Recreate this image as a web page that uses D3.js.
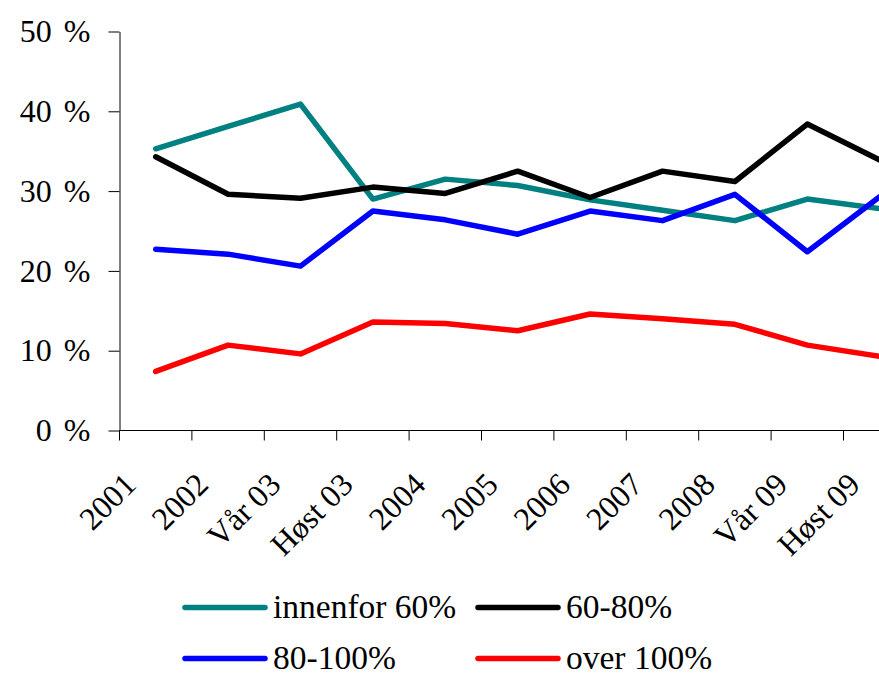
<!DOCTYPE html>
<html>
<head>
<meta charset="utf-8">
<script src="https://cdn.jsdelivr.net/npm/d3@7"></script>
<style>
  html, body { margin: 0; padding: 0; background: #fff; overflow: hidden; }
  svg { display: block; font-family: "Liberation Serif", "Times New Roman", serif; }
</style>
</head>
<body>
<svg id="chart" width="879" height="680"></svg>
<script>
// Periods on the x axis
const categories = ["2001", "2002", "Vår 03", "Høst 03", "2004", "2005", "2006", "2007", "2008", "Vår 09", "Høst 09"];

// Share (%) in each group per period
const innenfor60 = [35.3, 38.1, 40.9, 29.0, 31.5, 30.7, 28.9, 27.6, 26.3, 29.0, 27.8];
const s60to80    = [34.3, 29.6, 29.1, 30.5, 29.7, 32.5, 29.2, 32.5, 31.2, 38.4, 33.9];
const s80to100   = [22.7, 22.1, 20.6, 27.5, 26.4, 24.6, 27.5, 26.3, 29.6, 22.4, 29.3];
const over100    = [7.4, 10.7, 9.6, 13.6, 13.4, 12.5, 14.6, 14.0, 13.3, 10.7, 9.3];

const yTicks = [0, 10, 20, 30, 40, 50];

const seriesNames = ["innenfor 60%", "60-80%", "80-100%", "over 100%"];
const seriesValues = [innenfor60, s60to80, s80to100, over100];
const seriesColors = ["#008080", "#000000", "#0000ff", "#ff0000"];

const svg = d3.select("#chart");

const left = 119.5, bandW = 72.4;
const x = d3.scaleBand()
  .domain(categories)
  .range([left, left + bandW * categories.length])
  .paddingInner(0).paddingOuter(0);

const y = d3.scaleLinear().domain([0, 50]).range([430.5, 31.5]);

// Y axis
const yAxis = svg.append("g")
  .attr("transform", `translate(${left},0)`)
  .call(d3.axisLeft(y).tickValues(yTicks).tickSize(11).tickSizeOuter(0).tickPadding(18)
    .tickFormat(d => d + " %"));
yAxis.select(".domain").attr("stroke", "#000");
yAxis.selectAll(".tick line").attr("stroke", "#000");
yAxis.selectAll(".tick text")
  .attr("font-size", 32).attr("fill", "#000")
  .attr("word-spacing", 4)
  .attr("font-family", "'Liberation Serif', 'Times New Roman', serif");

// X axis: baseline, ticks at band edges, rotated labels
const xg = svg.append("g").attr("transform", `translate(0,${y(0)})`);
xg.append("line")
  .attr("x1", left).attr("x2", x.range()[1])
  .attr("stroke", "#000");
const edges = categories.map(c => x(c)).concat([x.range()[1]]);
xg.selectAll("line.edge").data(edges).join("line")
  .attr("class", "edge")
  .attr("x1", d => d).attr("x2", d => d)
  .attr("y1", 0).attr("y2", 10)
  .attr("stroke", "#000");
xg.selectAll("text.cat").data(categories).join("text")
  .attr("class", "cat")
  .attr("transform", d => `translate(${x(d) + x.bandwidth() / 2 - 18},${56}) rotate(-45)`)
  .attr("text-anchor", "end")
  .attr("font-size", 32)
  .attr("fill", "#000")
  .text(d => d);

// Series lines
const line = d3.line()
  .x((d, i) => x(categories[i]) + x.bandwidth() / 2)
  .y(d => y(d));

svg.append("g").selectAll("path.series").data(seriesValues).join("path")
  .attr("class", "series")
  .attr("d", d => line(d))
  .attr("fill", "none")
  .attr("stroke", (d, i) => seriesColors[i])
  .attr("stroke-width", 5.5)
  .attr("stroke-linejoin", "round")
  .attr("stroke-linecap", "round");

// Legend (two columns, two rows)
const legendPos = [
  { lx: 185, ly: 607.5 },
  { lx: 478, ly: 607.5 },
  { lx: 185, ly: 658.5 },
  { lx: 478, ly: 658.5 }
];
const legend = svg.append("g").selectAll("g").data(seriesNames).join("g")
  .attr("transform", (d, i) => `translate(${legendPos[i].lx},${legendPos[i].ly})`);
legend.append("line")
  .attr("x1", 0).attr("x2", 80)
  .attr("stroke", (d, i) => seriesColors[i])
  .attr("stroke-width", 5.5)
  .attr("stroke-linecap", "round");
legend.append("text")
  .attr("x", 88).attr("y", 10)
  .attr("font-size", 33.5)
  .attr("fill", "#000")
  .text(d => d);
</script>
</body>
</html>
